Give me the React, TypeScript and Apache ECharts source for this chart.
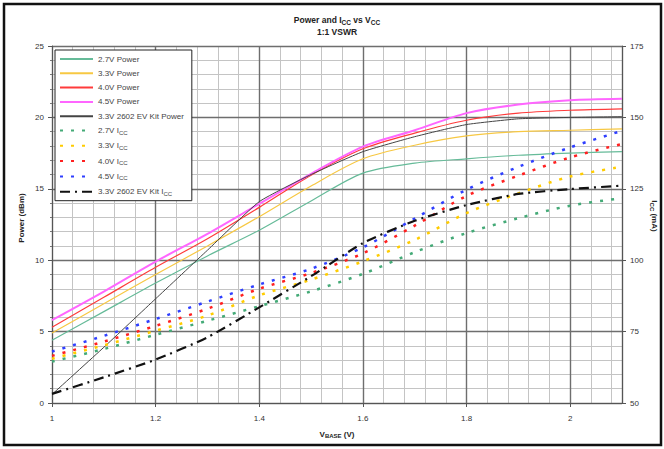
import React, { useEffect, useRef } from "react";
import * as echarts from "echarts";

const xs = [1.0, 1.1, 1.2, 1.3, 1.4, 1.5, 1.6, 1.7, 1.8, 1.9, 2.0, 2.1];

// Power (dBm), left axis
const pow27 = [4.4, 6.4, 8.4, 10.3, 12.1, 14.15, 16.1, 16.8, 17.1, 17.35, 17.5, 17.6];
const pow33 = [4.9, 6.95, 9.0, 11.0, 13.05, 15.2, 17.1, 18.05, 18.7, 19.0, 19.1, 19.2];
const pow40 = [5.3, 7.4, 9.5, 11.5, 13.7, 15.95, 17.8, 18.9, 19.8, 20.3, 20.5, 20.6];
const pow45 = [5.8, 7.8, 9.9, 11.85, 13.95, 16.05, 17.95, 19.1, 20.3, 20.9, 21.2, 21.3];
const powKit = [0.6, 3.9, 7.3, 10.7, 14.1, 16.0, 17.6, 18.65, 19.5, 19.9, 20.0, 20.05];

// Icc (mA), right axis
const icc27 = [64.5, 68.9, 73.9, 78.8, 83.9, 89.1, 95.2, 102.8, 109.5, 114.7, 119.1, 121.7];
const icc33 = [65.5, 70.2, 75.3, 80.6, 87.7, 93.2, 99.6, 107.1, 116.5, 123.4, 129.3, 132.7];
const icc40 = [66.5, 71.5, 77.0, 83.0, 90.0, 95.5, 102.4, 112.1, 122.5, 129.6, 136.0, 140.7];
const icc45 = [68.0, 73.5, 79.4, 85.5, 91.5, 97.0, 104.5, 114.6, 124.7, 132.7, 139.5, 145.3];
const iccKit = [53.2, 59.0, 65.2, 73.0, 83.5, 94.4, 106.0, 113.8, 119.3, 123.2, 124.9, 126.1];

const xTicks = [1, 1.2, 1.4, 1.6, 1.8, 2];

const FONT = "'Liberation Sans', Arial, sans-serif";

const seriesDefs = [
  { name: "2.7V Power", data: pow27, axis: 0, color: "#66bb99", width: 1.2, type: "solid" as any, smooth: 0.3 },
  { name: "3.3V Power", data: pow33, axis: 0, color: "#f7c843", width: 1.2, type: "solid" as any, smooth: 0.3 },
  { name: "4.0V Power", data: pow40, axis: 0, color: "#ff3b3b", width: 1.2, type: "solid" as any, smooth: 0.3 },
  { name: "4.5V Power", data: pow45, axis: 0, color: "#ff66ff", width: 2, type: "solid" as any, smooth: 0.3 },
  { name: "3.3V 2602 EV Kit Power", data: powKit, axis: 0, color: "#444444", width: 1, type: "solid" as any, smooth: 0.15 },
  { name: "2.7V ICC", data: icc27, axis: 1, color: "#44aa77", width: 2.5, type: [3, 8] as any, smooth: 0.3 },
  { name: "3.3V ICC", data: icc33, axis: 1, color: "#ffcc00", width: 2.5, type: [3, 8] as any, smooth: 0.3 },
  { name: "4.0V ICC", data: icc40, axis: 1, color: "#ff2020", width: 2.5, type: [3, 8] as any, smooth: 0.3 },
  { name: "4.5V ICC", data: icc45, axis: 1, color: "#2f3fff", width: 2.5, type: [3, 8] as any, smooth: 0.3 },
  { name: "3.3V 2602 EV Kit ICC", data: iccKit, axis: 1, color: "#111111", width: 2.2, type: [10, 5, 2, 5] as any, smooth: 0.2 },
];

export default function App() {
  const ref = useRef<HTMLDivElement>(null);
  useEffect(() => {
    if (!ref.current) return;
    const chart = echarts.init(ref.current, null, { renderer: "svg" });
    const labelStyle = { fontFamily: FONT, fontSize: 8, color: "#333" };
    const option: any = {
      animation: false,
      backgroundColor: "#ffffff",
      textStyle: { fontFamily: FONT },
      grid: { left: 52, right: 42, top: 46, bottom: 46, containLabel: false },
      xAxis: [
        {
          type: "value",
          min: 1,
          max: 2.1,
          interval: 0.2,
          axisLine: { show: true, onZero: false, lineStyle: { color: "#555", width: 1 } },
          axisTick: { show: true, length: 4, lineStyle: { color: "#555" } },
          axisLabel: {
            ...labelStyle,
            margin: 11,
            showMaxLabel: false,
            formatter: (v: number) => (xTicks.some((t) => Math.abs(t - v) < 1e-6) ? String(Math.round(v * 10) / 10) : ""),
          },
          splitLine: { show: true, lineStyle: { color: "#6e6e6e", width: 1.4 } },
          z: 2,
        },
        {
          type: "value",
          position: "top",
          min: 1,
          max: 2.1,
          interval: 0.04,
          axisLine: { show: false },
          axisTick: { show: false },
          axisLabel: { show: false },
          splitLine: { show: true, lineStyle: { color: "#c4c4c4", width: 1 } },
          z: 1,
        },
      ],
      yAxis: [
        {
          type: "value",
          min: 0,
          max: 25,
          interval: 5,
          position: "left",
          axisLine: { show: true, lineStyle: { color: "#555", width: 1 } },
          axisTick: { show: true, length: 4, lineStyle: { color: "#555" } },
          minorTick: { show: true, splitNumber: 5, length: 2, lineStyle: { color: "#777" } },
          axisLabel: { ...labelStyle, margin: 8 },
          splitLine: { show: true, lineStyle: { color: "#6e6e6e", width: 1.4 } },
          z: 2,
        },
        {
          type: "value",
          min: 50,
          max: 175,
          interval: 25,
          position: "right",
          axisLine: { show: true, lineStyle: { color: "#555", width: 1 } },
          axisTick: { show: true, length: 4, lineStyle: { color: "#555" } },
          axisLabel: { ...labelStyle, margin: 8 },
          splitLine: { show: false },
          z: 2,
        },
        {
          type: "value",
          min: 0,
          max: 25,
          interval: 1,
          position: "left",
          axisLine: { show: false },
          axisTick: { show: false },
          axisLabel: { show: false },
          splitLine: { show: true, lineStyle: { color: "#c4c4c4", width: 1 } },
          z: 1,
        },
      ],
      legend: {
        show: true,
        orient: "vertical",
        left: 55,
        top: 50,
        padding: [5, 8, 4, 4],
        itemWidth: 33,
        itemHeight: 8,
        itemGap: 6.3,
        backgroundColor: "#ffffff",
        borderColor: "#222",
        borderWidth: 1,
        selectedMode: false,
        itemStyle: { opacity: 0 },
        data: seriesDefs.map((s) => s.name),
        formatter: (name: string) =>
          name.endsWith("ICC") ? "{t|" + name.slice(0, -3) + "I}{s|CC}" : "{t|" + name + "}",
        textStyle: {
          fontFamily: FONT,
          fontSize: 8,
          color: "#444",
          rich: {
            t: { fontFamily: FONT, fontSize: 8, color: "#444" },
            s: { fontFamily: FONT, fontSize: 6, color: "#444", verticalAlign: "bottom", padding: [4, 0, 0, 0] },
          },
        },
      },
      graphic: [
        {
          type: "rect",
          shape: { x: 4, y: 4, width: 657, height: 441 },
          style: { fill: "none", stroke: "#111", lineWidth: 2.5 },
          silent: true,
        },
        {
          type: "text",
          x: 337,
          y: 20,
          style: {
            text: "{b|Power and I}{s|CC}{b| vs V}{s|CC}",
            align: "center",
            verticalAlign: "middle",
            rich: {
              b: { fontFamily: FONT, fontSize: 8.5, fontWeight: "bold", fill: "#222" },
              s: { fontFamily: FONT, fontSize: 6.5, fontWeight: "bold", fill: "#222", verticalAlign: "bottom", padding: [4, 0, 0, 0] },
            },
          },
        },
        {
          type: "text",
          x: 337,
          y: 32,
          style: {
            text: "1:1 VSWR",
            align: "center",
            verticalAlign: "middle",
            font: "bold 8.5px 'Liberation Sans', Arial, sans-serif",
            fill: "#222",
          },
        },
        {
          type: "text",
          x: 337,
          y: 434,
          style: {
            text: "{b|V}{s|BASE}{b| (V)}",
            align: "center",
            verticalAlign: "middle",
            rich: {
              b: { fontFamily: FONT, fontSize: 8, fontWeight: "bold", fill: "#222" },
              s: { fontFamily: FONT, fontSize: 6, fontWeight: "bold", fill: "#222", verticalAlign: "bottom", padding: [4, 0, 0, 0] },
            },
          },
        },
        {
          type: "text",
          x: 21,
          y: 218,
          rotation: Math.PI / 2,
          style: {
            text: "Power (dBm)",
            align: "center",
            verticalAlign: "middle",
            font: "bold 8px 'Liberation Sans', Arial, sans-serif",
            fill: "#222",
          },
        },
        {
          type: "text",
          x: 654,
          y: 216,
          rotation: -Math.PI / 2,
          style: {
            text: "{b|I}{s|CC}{b| (mA)}",
            align: "center",
            verticalAlign: "middle",
            rich: {
              b: { fontFamily: FONT, fontSize: 8, fontWeight: "bold", fill: "#222" },
              s: { fontFamily: FONT, fontSize: 6, fontWeight: "bold", fill: "#222", verticalAlign: "bottom", padding: [4, 0, 0, 0] },
            },
          },
        },
      ],
      series: seriesDefs.map((s) => ({
        name: s.name,
        type: "line",
        xAxisIndex: 0,
        yAxisIndex: s.axis,
        data: xs.map((x, i) => [x, s.data[i]]),
        symbol: "none",
        showSymbol: false,
        smooth: s.smooth,
        color: s.color,
        lineStyle: { color: s.color, width: s.width, type: s.type },
        itemStyle: { color: s.color },
        z: 3,
      })),
    };
    chart.setOption(option);
    return () => chart.dispose();
  }, []);
  return (
    <div
      ref={ref}
      style={{ position: "fixed", left: 0, top: 0, width: 664, height: 449, background: "#fff" }}
    />
  );
}
